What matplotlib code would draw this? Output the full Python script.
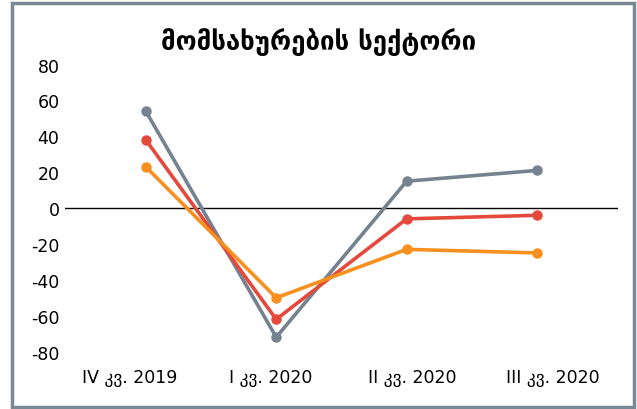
import matplotlib.pyplot as plt
from matplotlib.patches import Rectangle

quarters = ['IV კვ. 2019', 'I კვ. 2020', 'II კვ. 2020', 'III კვ. 2020']
gray_vals = [54, -72, 15, 21]
red_vals = [38, -62, -6, -4]
orange_vals = [23, -50, -23, -25]

plt.rcParams['font.family'] = ['DejaVu Sans']
plt.rcParams['axes.unicode_minus'] = False

fig = plt.figure(figsize=(6.37, 4.10), dpi=100)
ax = fig.add_axes([0.102, 0.14, 0.868, 0.70])

x = list(range(len(quarters)))
ax.plot(x, gray_vals, color='#75828f', lw=2.6, marker='o', ms=6.5, zorder=3)
ax.plot(x, red_vals, color='#e34a3b', lw=2.6, marker='o', ms=6.5, zorder=4)
ax.plot(x, orange_vals, color='#f7901e', lw=2.6, marker='o', ms=6.5, zorder=5)
ax.axhline(0, color='black', lw=1, zorder=2)

ax.set_xlim(-0.62, 3.62)
ax.set_ylim(-80, 80)
ax.set_yticks(range(-80, 81, 20))
# Excel spreads the category labels slightly wider than the points
ax.set_xticks([i * 1.08 - 0.12 for i in x])
ax.set_xticklabels(quarters)
ax.tick_params(length=0, labelsize=12.5, colors='black')
ax.tick_params(axis='y', pad=4)
ax.tick_params(axis='x', pad=12)
for s in ax.spines.values():
    s.set_visible(False)

fig.text(0.5, 0.897, 'მომსახურების სექტორი', ha='center', va='center',
         fontsize=18.5, fontweight='bold')

fig.patches.append(Rectangle((0.019, 0.006), 0.976, 0.984, transform=fig.transFigure,
                             fill=False, edgecolor='#7a8794', lw=2.5))

fig.savefig('out.png', dpi=100)
